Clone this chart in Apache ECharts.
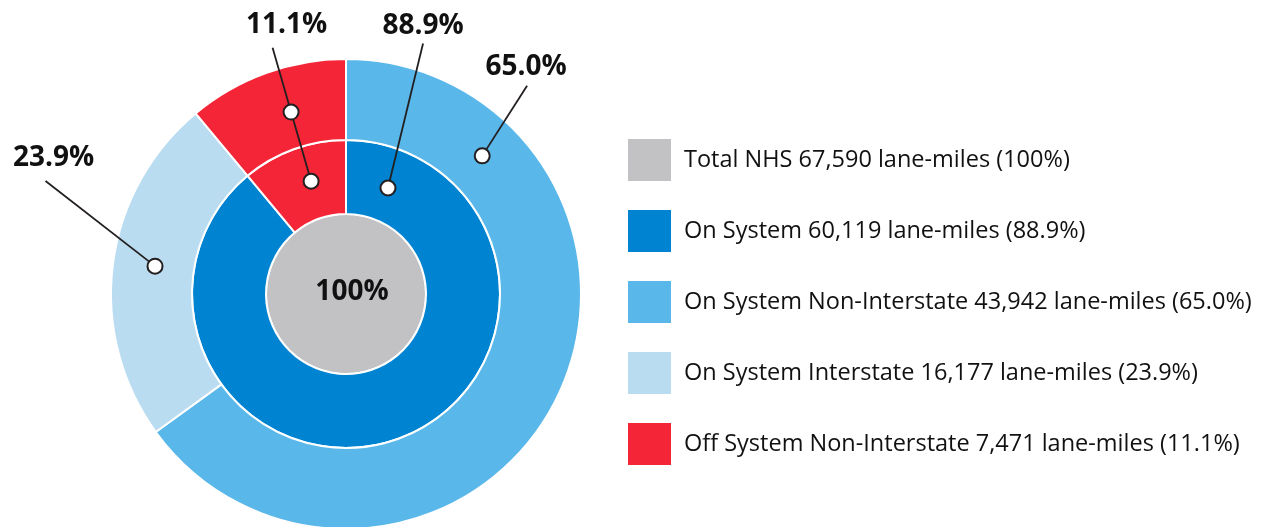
<!DOCTYPE html>
<html>
<head>
<meta charset="utf-8">
<script src="https://cdn.jsdelivr.net/npm/echarts@6/dist/echarts.min.js"></script>
<style>
  body { margin: 0; background: #fff; }
  #chart { width: 1269px; height: 527px; }
</style>
</head>
<body>
<div id="chart"></div>
<script>
const totalName = 'Total NHS'
const totalMiles = 67590
const innerNames = ['On System', 'Off System Non-Interstate']
const innerMiles = [60119, 7471]
const outerNames = ['On System Non-Interstate', 'On System Interstate', 'Off System Non-Interstate']
const outerMiles = [43942, 16177, 7471]
const legendOrder = ['Total NHS', 'On System', 'On System Non-Interstate', 'On System Interstate', 'Off System Non-Interstate']

const colors = {
  'Total NHS': '#c2c2c5',
  'On System': '#0084d2',
  'On System Non-Interstate': '#5ab7ea',
  'On System Interstate': '#badcf1',
  'Off System Non-Interstate': '#f42536'
}

const milesByName = {}
milesByName[totalName] = totalMiles
innerNames.forEach((n, i) => milesByName[n] = innerMiles[i])
outerNames.forEach((n, i) => milesByName[n] = outerMiles[i])

const pct = (v) => {
  const p = v / totalMiles * 100
  return p === 100 ? '100' : p.toFixed(1)
}

// leader lines: polar coords [radius px, angle deg clockwise from top]
const leaders = [
  {name: 'Off System Non-Interstate', end: [257, 343.4], dots: [[190, 343.2], [118, 342.8]], offset: [14, -23]},
  {name: 'On System', end: [262, 17.1], dots: [[114, 21.6]], offset: [0, -18]},
  {name: 'On System Non-Interstate', end: [276, 41.0], dots: [[194, 44.6]], offset: [-1, -19]},
  {name: 'On System Interstate', end: [321, 290.6], dots: [[193, 278.3]], offset: [8, -23]}
]

const center = [346, 294]
const labelFont = {fontSize: 28, fontWeight: 'bold', color: '#111', fontFamily: 'Open Sans'}
const ring = {
  type: 'pie',
  center,
  startAngle: 90,
  clockwise: true,
  label: {show: false},
  labelLine: {show: false},
  emphasis: {disabled: true},
  itemStyle: {borderColor: '#fff', borderWidth: 2}
}

const leaderSeries = leaders.map(l => ({
  type: 'line',
  coordinateSystem: 'polar',
  z: 5,
  silent: true,
  clip: false,
  lineStyle: {color: '#231f20', width: 1.8},
  data: [
    {
      value: l.end,
      symbol: 'circle',
      symbolSize: 1,
      itemStyle: {color: 'rgba(0,0,0,0)', borderWidth: 0},
      label: Object.assign({show: true, position: 'inside', offset: l.offset, formatter: pct(milesByName[l.name]) + '%'}, labelFont)
    }
  ].concat(l.dots.map(d => ({
    value: d,
    symbol: 'circle',
    symbolSize: 15,
    itemStyle: {color: '#fff', borderColor: '#231f20', borderWidth: 2}
  })))
}))

const myChart = echarts.init(document.getElementById('chart'))
myChart.setOption({
  animation: false,
  polar: {center, radius: 340},
  angleAxis: {type: 'value', min: 0, max: 360, startAngle: 90, clockwise: true, show: false},
  radiusAxis: {type: 'value', min: 0, max: 340, show: false},
  legend: {
    orient: 'vertical',
    left: 628,
    top: 139,
    padding: 0,
    icon: 'rect',
    itemWidth: 43,
    itemHeight: 42,
    itemGap: 29,
    data: legendOrder,
    itemStyle: {borderWidth: 0},
    selectedMode: false,
    formatter: (name) => name + ' ' + milesByName[name].toLocaleString('en-US') + ' lane-miles (' + pct(milesByName[name]) + '%)',
    textStyle: {fontSize: 23.5, color: '#111', fontFamily: 'Open Sans', padding: [0, 0, 0, 8]}
  },
  series: [
    Object.assign({}, ring, {
      name: 'total',
      radius: [0, 80],
      data: [{name: totalName, value: totalMiles, itemStyle: {color: colors[totalName]}}],
      label: Object.assign({show: true, position: 'center', offset: [6, -2], formatter: pct(totalMiles) + '%'}, labelFont)
    }),
    Object.assign({}, ring, {
      name: 'inner',
      radius: [80, 154],
      data: innerNames.map((n, i) => ({name: n, value: innerMiles[i], itemStyle: {color: colors[n]}}))
    }),
    Object.assign({}, ring, {
      name: 'outer',
      radius: [154, 235],
      data: outerNames.map((n, i) => ({name: n, value: outerMiles[i], itemStyle: {color: colors[n]}}))
    })
  ].concat(leaderSeries)
})
</script>
</body>
</html>
